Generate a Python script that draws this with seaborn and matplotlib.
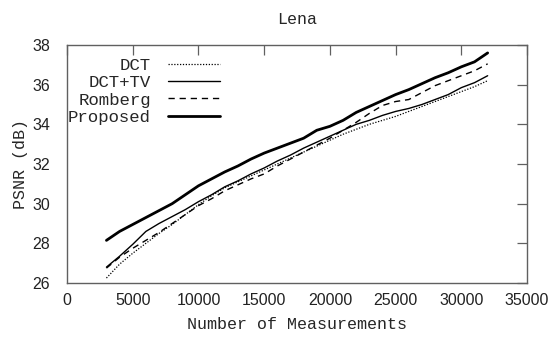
import numpy as np
import pandas as pd
import matplotlib
matplotlib.use("Agg")
import matplotlib.pyplot as plt
import seaborn as sns

# number of measurements
n_meas = list(range(3000, 33000, 1000))

psnr_dct = [26.25, 26.95, 27.5, 28.0, 28.5, 28.95, 29.45, 29.95, 30.4, 30.8,
            31.1, 31.4, 31.7, 32.0, 32.3, 32.6, 32.9, 33.2, 33.5, 33.75,
            34.0, 34.2, 34.4, 34.65, 34.9, 35.15, 35.4, 35.65, 35.9, 36.2]
psnr_dcttv = [26.8, 27.35, 27.95, 28.6, 29.0, 29.35, 29.7, 30.1, 30.45, 30.85,
              31.15, 31.5, 31.8, 32.15, 32.45, 32.8, 33.1, 33.4, 33.7, 34.0,
              34.2, 34.45, 34.65, 34.8, 35.0, 35.25, 35.5, 35.85, 36.1, 36.45]
psnr_romberg = [26.75, 27.3, 27.75, 28.15, 28.55, 29.0, 29.45, 29.9, 30.25, 30.65,
                30.95, 31.25, 31.5, 31.9, 32.25, 32.6, 32.95, 33.3, 33.7, 34.1,
                34.55, 34.95, 35.15, 35.25, 35.6, 35.95, 36.2, 36.45, 36.7, 37.05]
psnr_proposed = [28.15, 28.6, 28.95, 29.3, 29.65, 30.0, 30.45, 30.9, 31.25, 31.6,
                 31.9, 32.25, 32.55, 32.8, 33.05, 33.3, 33.7, 33.9, 34.2, 34.6,
                 34.9, 35.2, 35.5, 35.75, 36.05, 36.35, 36.6, 36.9, 37.15, 37.6]

sns.set_theme(style="white")
plt.rcParams["font.family"] = ["Liberation Mono", "DejaVu Sans"]

fig = plt.figure(figsize=(5.56, 3.38), dpi=100)
ax = fig.add_axes([0.1205, 0.1627, 0.8275, 0.7042])

styles = [
    ("DCT", psnr_dct, dict(lw=0.9, linestyle=(0, (1, 1.3)))),
    ("DCT+TV", psnr_dcttv, dict(lw=1.0, linestyle="-")),
    ("Romberg", psnr_romberg, dict(lw=1.0, linestyle=(0, (4.5, 3.5)))),
    ("Proposed", psnr_proposed, dict(lw=2.0, linestyle="-")),
]
for name, vals, kw in styles:
    sns.lineplot(x=n_meas, y=vals, ax=ax, color="black", label=name, **kw)

ax.set_xlim(0, 35000)
ax.set_ylim(26, 38)
ax.set_xticks(range(0, 35001, 5000))
ax.set_yticks(range(26, 39, 2))

for sp in ax.spines.values():
    sp.set_color("#606060")
    sp.set_linewidth(1.0)
ax.tick_params(direction="in", length=7, width=0.9, color="#606060",
               top=True, right=True, labelsize=11.5)
ax.tick_params(axis="x", pad=7)
ax.tick_params(axis="y", pad=12)
for lab in ax.get_xticklabels() + ax.get_yticklabels():
    lab.set_family(["Liberation Sans", "DejaVu Sans"])
    lab.set_color("#222222")

ax.set_xlabel("Number of Measurements", fontsize=12, labelpad=7)
ax.set_ylabel("PSNR (dB)", fontsize=12, labelpad=3)
ax.set_title("Lena", fontsize=12, pad=15)

leg = ax.legend(loc="upper left", bbox_to_anchor=(-0.013, 0.975), frameon=False,
                markerfirst=False, fontsize=12.5, handlelength=3.0,
                handletextpad=1.0, labelspacing=0.12, borderaxespad=0)

fig.savefig("out.png", dpi=100)
